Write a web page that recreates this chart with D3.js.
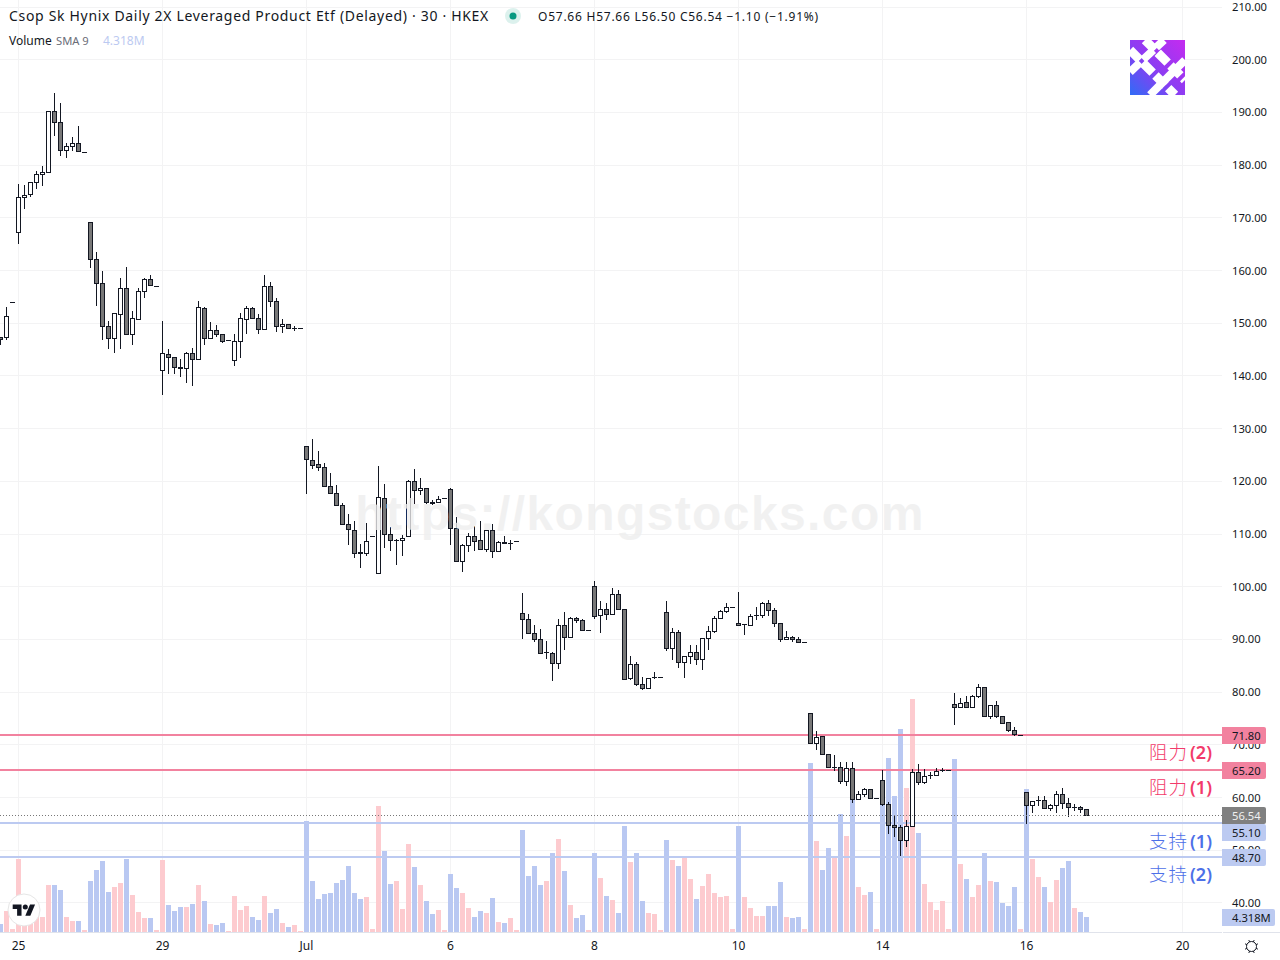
<!DOCTYPE html>
<html><head><meta charset="utf-8">
<script src="https://cdn.jsdelivr.net/npm/d3@7/dist/d3.min.js"></script>
<style>html,body{margin:0;padding:0;background:#fff;overflow:hidden}svg{display:block}text{font-family:"Noto Sans",sans-serif}</style>
</head><body><svg id="c" width="1280" height="960"></svg>
<script>
const opens=[147.31,147.31,153.95,
167.23,173.87,174.44,176.72,178.24,178.62,190.19,188.1,182.79,183.55,184.12,182.41,
169.13,162.11,157.55,149.4,147.12,151.67,156.6,147.88,150.73,156.04,158.31,156.99,
141.05,144.08,143.51,141.62,141.43,144.27,143.13,152.81,147.12,148.64,147.88,146.74,
142.94,146.55,150.73,152.81,150.92,148.83,156.99,154.14,149.4,149.78,149.02,149.02,
126.63,123.97,123.21,122.64,119.03,117.71,115.43,111.83,110.69,106.51,106.32,109.55,
102.53,116.76,109.93,108.79,108.79,109.55,119.99,118.27,118.65,116.0,116.0,116.76,
118.46,111.07,104.81,107.84,109.55,108.79,107.08,110.69,106.7,108.41,108.22,108.6,
94.94,93.8,91.14,90.0,87.54,87.35,85.45,92.66,90.38,93.99,93.61,91.71,
100.06,94.56,95.7,94.75,98.54,95.7,82.61,85.26,81.47,80.71,82.8,82.8,
95.13,88.3,91.33,85.64,86.78,87.54,86.21,90.19,91.52,93.99,95.32,96.08,
93.04,92.85,92.66,94.56,94.56,96.84,95.51,93.04,90.0,90.38,90.0,89.43,
75.96,70.27,71.6,68.19,65.72,65.72,63.06,65.53,59.65,60.6,61.54,59.84,
63.25,58.7,54.71,54.33,51.87,54.52,64.77,62.87,64.19,64.19,65.15,65.15,
77.67,77.1,78.05,77.1,79.19,80.9,75.39,77.48,75.39,74.25,72.73,71.79,
60.97,58.51,59.46,59.46,57.94,58.51,60.6,58.89,58.13,58.13,57.66];
const highs=[147.31,153.0,153.95,
176.34,176.15,176.72,178.81,179.76,190.19,193.61,191.71,184.12,185.26,187.35,182.41,
169.13,163.44,159.83,150.34,151.86,158.5,160.59,152.24,156.6,158.5,159.07,156.99,
150.34,145.03,143.51,143.13,144.46,145.22,154.14,153.0,150.15,149.59,147.88,146.74,
147.88,151.86,153.19,153.0,151.67,159.07,157.74,154.7,150.73,149.78,149.4,149.02,
126.63,127.95,125.68,123.4,121.5,119.22,115.81,113.72,112.4,108.03,112.02,109.55,
122.83,119.41,111.25,108.98,109.74,120.17,122.26,120.55,118.65,116.38,117.14,116.76,
118.65,113.15,108.03,110.12,111.44,112.4,110.69,111.83,108.6,109.55,108.79,108.6,
98.73,94.75,92.66,91.9,89.62,87.54,93.8,95.13,94.18,94.18,93.8,91.71,
101.01,97.22,96.84,99.69,99.31,95.7,86.78,85.64,82.8,82.61,83.75,82.8,
97.22,92.09,91.71,86.78,88.87,88.87,90.19,92.47,94.37,95.51,96.84,96.08,
98.92,92.85,94.75,96.08,97.03,97.4,95.89,93.04,91.52,90.57,90.38,89.43,
75.96,72.55,71.6,68.19,67.99,66.67,66.67,66.67,61.16,61.73,61.54,59.84,
65.15,59.08,56.6,54.71,55.66,65.34,66.29,65.34,64.77,65.53,65.53,65.15,
79.76,78.81,79.19,79.38,81.47,80.9,77.48,78.24,75.39,74.25,73.3,71.79,
60.97,59.27,60.22,60.22,58.7,61.16,61.73,59.84,58.7,58.32,57.66];
const lows=[145.98,146.93,153.95,
165.15,171.79,174.06,175.58,176.15,178.62,185.64,181.84,181.46,182.79,182.6,182.41,
160.59,153.38,146.93,145.22,144.46,145.22,147.88,145.98,150.73,154.9,157.18,156.99,
136.49,140.48,140.48,139.91,138.77,138.2,143.13,145.98,147.12,147.49,146.36,146.74,
141.99,143.51,148.07,150.92,148.07,148.83,153.19,148.45,148.26,149.02,148.64,149.02,
117.71,122.45,122.07,119.03,117.71,115.43,111.83,108.03,105.56,103.67,105.94,109.55,
102.53,107.46,106.89,104.24,105.94,109.55,115.81,117.52,115.81,115.62,116.0,116.76,
108.03,104.81,102.91,106.7,106.89,107.08,106.7,105.56,106.7,108.22,107.08,108.6,
90.19,91.14,89.62,87.35,86.4,82.22,84.5,88.11,90.38,93.23,91.71,91.71,
93.99,91.33,93.8,94.75,95.7,82.42,82.42,81.28,80.52,80.71,82.61,82.8,
87.92,86.21,84.69,82.8,85.45,85.26,84.31,88.11,91.33,93.99,95.13,96.08,
92.66,90.95,92.66,93.8,94.18,94.56,92.47,89.62,90.0,89.62,89.43,89.43,
70.27,69.13,68.19,65.72,65.15,62.68,62.31,59.08,59.65,60.22,59.84,59.84,
58.51,53.2,52.63,49.02,50.73,54.52,62.5,62.68,63.62,64.19,64.96,65.15,
73.88,77.1,77.1,77.1,78.99,75.39,75.01,75.2,74.07,72.55,71.79,71.79,
55.09,57.18,58.51,57.94,57.56,57.18,57.94,56.41,57.56,57.18,56.5];
const closes=[146.93,151.29,153.95,
173.87,174.25,176.72,178.24,178.62,190.19,188.1,182.79,183.55,184.12,182.6,182.41,
162.11,157.55,149.4,147.12,151.86,156.6,147.88,150.92,156.04,158.31,157.18,156.99,
144.27,143.51,141.62,141.43,144.27,143.13,153.0,147.12,148.64,147.88,146.55,146.74,
146.55,150.92,152.81,150.92,148.83,156.99,154.14,149.4,149.78,149.02,149.02,149.02,
124.16,123.02,122.64,119.03,117.71,115.43,111.83,110.88,106.32,106.32,108.6,109.55,
116.95,109.93,108.79,108.79,109.17,119.99,118.27,118.65,116.0,115.81,116.57,116.76,
111.07,104.81,107.84,109.55,108.6,107.08,110.69,106.7,108.41,108.22,108.22,108.6,
93.8,91.14,90.0,87.35,87.54,85.45,92.66,90.38,93.99,93.61,91.71,91.71,
94.37,95.7,94.75,98.54,95.7,82.42,85.26,81.47,80.71,82.61,82.8,82.8,
88.3,91.33,85.64,86.78,87.54,86.21,90.19,91.52,93.99,95.32,96.08,96.08,
92.66,92.85,94.37,94.56,96.84,95.51,93.04,90.0,90.38,90.0,89.43,89.43,
70.27,71.41,68.19,65.72,65.72,63.06,65.53,59.65,60.6,61.54,59.84,59.84,
58.7,54.71,54.33,51.87,54.52,64.77,62.87,64.0,64.19,64.96,65.15,65.15,
77.1,77.86,77.1,79.19,80.9,75.39,77.48,75.39,74.07,72.73,71.97,71.79,
58.51,59.27,59.46,57.94,58.51,60.6,58.89,58.13,58.13,57.75,56.54];
const volumes=[2.3,6.1,0.9,
21.1,2.0,3.5,5.0,4.3,13.6,13.6,12.1,4.3,3.2,3.2,0.6,
14.7,17.9,20.5,11.5,13.0,14.1,21.1,10.7,5.8,4.0,4.0,0.6,
20.8,7.8,6.1,7.2,7.2,8.1,13.6,8.9,2.3,2.0,2.6,0.3,
10.4,6.3,7.5,4.3,3.5,10.4,5.5,6.6,2.6,1.4,2.0,0.3,
32.0,14.7,9.5,11.0,11.3,14.1,15.0,19.0,11.3,9.5,10.1,0.9,
36.3,23.4,13.8,14.7,6.6,25.4,18.8,13.6,8.9,5.2,6.3,0.6,
16.7,12.7,11.3,6.9,4.3,6.1,5.5,9.8,2.9,2.6,4.0,0.6,
29.4,16.2,19.0,13.6,14.7,22.8,26.8,17.6,7.8,4.0,4.9,0.6,
22.8,15.6,10.4,9.2,5.5,30.6,20.2,22.8,8.9,5.5,5.2,0.6,
26.5,20.8,19.0,21.6,15.3,9.5,13.3,16.7,11.3,10.1,10.4,0.9,
30.6,10.1,6.9,4.6,4.6,7.5,7.5,14.4,4.3,4.0,4.3,0.9,
48.8,26.3,17.9,24.2,21.3,34.0,27.7,38.3,13.0,10.7,11.5,0.9,
36.6,50.2,39.2,58.6,41.5,67.2,28.6,13.8,8.7,6.3,8.9,0.9,
49.9,19.6,15.3,10.1,13.6,22.8,14.7,14.4,8.4,7.5,13.0,0.9,
41.3,21.1,15.9,13.0,8.7,15.0,18.5,20.5,6.9,5.8,4.318];

const priceTicks=[210,200,190,180,170,160,150,140,130,120,110,100,90,80,70,60,50,40];
const timeTickIndex=[3,27,51,75,99,123,147,171,197];
const timeTickLabels=["25","29","Jul","6","8","10","14","16","20"];
const levelValues=[71.80,65.20,55.10,48.70];
const levelNames=["阻力","阻力","支持","支持"];
const levelNums=["(2)","(1)","(1)","(2)"];
const lastClose=56.54;
const lastVolumeLabel="4.318M";
const titleText="Csop Sk Hynix Daily 2X Leveraged Product Etf (Delayed) · 30 · HKEX";
const ohlcText="O57.66 H57.66 L56.50 C56.54 −1.10 (−1.91%)";

const W=1222,BASE=932;
const DARK="#131722",GRID="#f3f3f4",UP="#fdcbcf",DOWN="#b9c8f2",PINK="#f2829f",BLUE="#bccaf1";
const svg=d3.select("#c");
svg.append("rect").attr("width",1280).attr("height",960).attr("fill","#fff");
const x=d3.scaleLinear().domain([0,1]).range([0.5,6.5]);
const y=d3.scaleLinear().domain([40,210]).range([902.9,7.11]);
const vy=d3.scaleLinear().domain([0,70]).range([BASE,BASE-242.7]);
const cy=v=>Math.floor(y(v))+0.5;
const idx=d3.range(opens.length);

// grid
const g=svg.append("g");
g.selectAll(".h").data(priceTicks).join("line").attr("x1",0).attr("x2",W)
 .attr("y1",d=>Math.floor(y(d))+0.5).attr("y2",d=>Math.floor(y(d))+0.5).attr("stroke",GRID);
g.selectAll(".v").data(timeTickIndex).join("line").attr("y1",0).attr("y2",BASE)
 .attr("x1",d=>x(d)).attr("x2",d=>x(d)).attr("stroke",GRID);

// volumes
svg.append("g").selectAll("rect").data(idx).join("rect")
 .attr("x",i=>x(i)-2.5).attr("width",5)
 .attr("y",i=>Math.round(vy(volumes[i]))).attr("height",i=>BASE-Math.round(vy(volumes[i])))
 .attr("fill",i=>closes[i]>=opens[i]?UP:DOWN);

// levels
svg.append("g").selectAll("line").data(levelValues).join("line")
 .attr("x1",0).attr("x2",W).attr("y1",d=>Math.round(y(d))).attr("y2",d=>Math.round(y(d)))
 .attr("stroke",(d,i)=>i<2?PINK:BLUE).attr("stroke-width",2);

// candles
const cg=svg.append("g");
cg.selectAll(".w").data(idx).join("line")
 .attr("x1",i=>x(i)).attr("x2",i=>x(i))
 .attr("y1",i=>cy(highs[i])-0.5).attr("y2",i=>cy(lows[i])+0.5)
 .attr("stroke",DARK).attr("stroke-width",1);
cg.selectAll(".b").data(idx.filter(i=>opens[i]!==closes[i])).join("rect")
 .attr("x",i=>x(i)-2).attr("width",4)
 .attr("y",i=>Math.min(cy(opens[i]),cy(closes[i])))
 .attr("height",i=>Math.abs(cy(opens[i])-cy(closes[i])))
 .attr("fill",i=>closes[i]>opens[i]?"#fff":"#787878")
 .attr("stroke",DARK).attr("stroke-width",1);
cg.selectAll(".d").data(idx.filter(i=>opens[i]===closes[i])).join("line")
 .attr("x1",i=>x(i)-2.5).attr("x2",i=>x(i)+2.5)
 .attr("y1",i=>cy(opens[i])).attr("y2",i=>cy(opens[i]))
 .attr("stroke",DARK).attr("stroke-width",1);

// last price dotted
svg.append("line").attr("x1",0).attr("x2",W).attr("y1",cy(lastClose)).attr("y2",cy(lastClose))
 .attr("stroke","#787878").attr("stroke-width",1).attr("stroke-dasharray","1 2");

// watermark
svg.append("text").attr("x",640).attr("y",530).attr("text-anchor","middle")
 .style("font-family","'Liberation Sans',sans-serif").style("font-weight",700).style("font-size","48px")
 .style("letter-spacing","1.4px")
 .attr("fill","#eeeeee").attr("fill-opacity",0.8).text("https://kongstocks.com");

// axis baseline
svg.append("line").attr("x1",0).attr("x2",W).attr("y1",932.5).attr("y2",932.5).attr("stroke","#e0e3eb");
svg.append("line").attr("x1",1223).attr("x2",1280).attr("y1",932.5).attr("y2",932.5).attr("stroke","#e0e3eb");

// price axis
const tx=svg.append("g").style("font-size","11.2px").attr("fill",DARK);
tx.selectAll("text").data(priceTicks).join("text").attr("x",1232).attr("y",d=>Math.round(y(d))+4).text(d=>d.toFixed(2));
// time axis
svg.append("g").style("font-size","12px").attr("fill",DARK).selectAll("text").data(timeTickIndex).join("text")
 .attr("x",d=>x(d)).attr("y",950).attr("text-anchor","middle").text((d,i)=>timeTickLabels[i]);

// level tags
function tag(yTop,w,fill,txt,color){
  svg.append("path").attr("fill",fill)
   .attr("d",`M1222 ${yTop}H${1222+w-2}a2 2 0 0 1 2 2V${yTop+15}a2 2 0 0 1 -2 2H1222Z`);
  svg.append("text").attr("x",1232).attr("y",yTop+12.7).style("font-size","11.2px").attr("fill",color).text(txt);
}
const tagTops=[727,762,824,849];
levelValues.forEach((v,i)=>tag(tagTops[i],44,i<2?PINK:BLUE,v.toFixed(2),DARK));
tag(807,44,"#808080",lastClose.toFixed(2),"#f0f0f0");
tag(909,53,BLUE,lastVolumeLabel,DARK);

// level annotations
const annY=[752,787,841,874];
levelValues.forEach((v,i)=>{
  const col=i<2?"#f23a6a":"#4d70e8";
  const t=svg.append("text").attr("x",1212).attr("y",annY[i]+7).attr("text-anchor","end")
   .attr("fill",col);
  t.append("tspan").style("font-family","'Noto Sans CJK SC'").style("font-size","18.5px").style("font-weight",300).style("letter-spacing","1px").text(levelNames[i]);
  t.append("tspan").style("font-size","18px").style("font-weight",600).attr("dx",2).text(levelNums[i]);
});

// header
svg.append("text").attr("x",9).attr("y",21).style("font-size","14px").style("letter-spacing","0.68px").attr("fill",DARK).text(titleText);
svg.append("circle").attr("cx",513).attr("cy",16).attr("r",8).attr("fill","#089981").attr("fill-opacity",0.14);
svg.append("circle").attr("cx",513).attr("cy",16).attr("r",3.5).attr("fill","#089981");
svg.append("text").attr("x",538).attr("y",21).style("font-size","12px").style("letter-spacing","0.76px").attr("fill",DARK).text(ohlcText);
svg.append("text").attr("x",9).attr("y",45).style("font-size","12px").attr("fill",DARK).text("Volume");
svg.append("text").attr("x",56).attr("y",45).style("font-size","11.2px").attr("fill","#6a6d78").text("SMA 9");
svg.append("text").attr("x",103).attr("y",45).style("font-size","12px").attr("fill",BLUE).text(lastVolumeLabel);

// TradingView logo
const lg=svg.append("g");
lg.append("circle").attr("cx",24).attr("cy",910).attr("r",16).attr("fill","#fff").attr("stroke","#e6e6e6");
const tv=lg.append("g").attr("transform","translate(12.7,900.7) scale(0.63)").attr("fill",DARK);
tv.append("path").attr("d","M14 6H0v7h7v11h7V6zM28 24h-8l7.5-18h8L28 24z");
tv.append("circle").attr("cx",20).attr("cy",10).attr("r",4);

// gear icon
const gear=svg.append("g").attr("transform","translate(1251.5,946.5)").attr("stroke",DARK).attr("fill","none");
gear.append("circle").attr("r",5);
d3.range(8).forEach(k=>{const a=k*Math.PI/4+Math.PI/8;
 gear.append("line").attr("x1",5*Math.cos(a)).attr("y1",5*Math.sin(a)).attr("x2",7*Math.cos(a)).attr("y2",7*Math.sin(a));});

// site logo
const defs=svg.append("defs");
const lgd=defs.append("linearGradient").attr("id","lg").attr("x1","0").attr("y1","1").attr("x2","1").attr("y2","0");
lgd.append("stop").attr("offset","0").attr("stop-color","#2f6cf6");
lgd.append("stop").attr("offset","0.45").attr("stop-color","#8a3df2");
lgd.append("stop").attr("offset","1").attr("stop-color","#c52bf0");
defs.append("clipPath").attr("id","lc").append("rect").attr("x",1130).attr("y",40).attr("width",55).attr("height",55);
const sl=svg.append("g").attr("clip-path","url(#lc)");
sl.append("rect").attr("x",1130).attr("y",40).attr("width",55).attr("height",55).attr("fill","url(#lg)");
[[1145,40,1185,80,9],[1130,50,1175,95,9],[1150,95,1185,60,8],[1130,72,1164,40,8]].forEach(s=>{
 sl.append("line").attr("x1",s[0]).attr("y1",s[1]).attr("x2",s[2]).attr("y2",s[3]).attr("stroke","#fff").attr("stroke-width",s[4]).attr("stroke-dasharray","14 4");
});
</script></body></html>
